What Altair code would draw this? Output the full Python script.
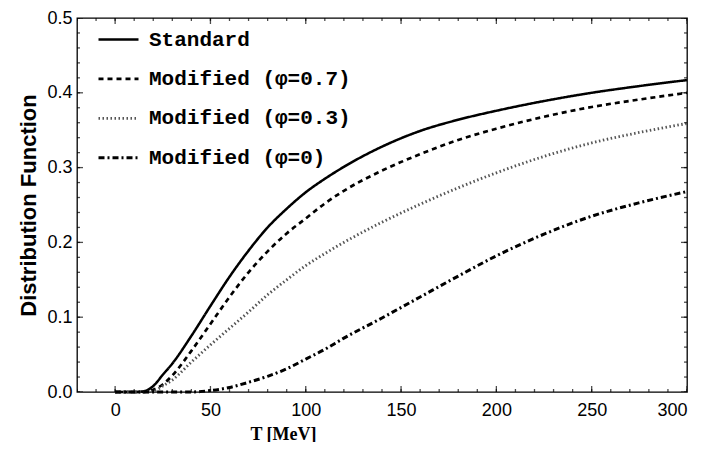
import altair as alt
import pandas as pd

# ---- data ----
T = [0, 10, 15, 20, 25, 30, 40, 50, 60, 70, 80, 90, 100, 110, 120, 140, 160, 180, 200, 225, 250, 275, 300]
STANDARD = [0, 0, 0.001, 0.008, 0.023, 0.038, 0.075, 0.115, 0.154, 0.189, 0.220, 0.245, 0.267, 0.285, 0.301,
            0.328, 0.349, 0.364, 0.376, 0.389, 0.400, 0.409, 0.417]
PHI_07 = [0, 0, 0, 0.003, 0.010, 0.022, 0.055, 0.091, 0.127, 0.160, 0.188, 0.212, 0.232, 0.252, 0.269,
          0.296, 0.318, 0.337, 0.352, 0.368, 0.381, 0.391, 0.400]
PHI_03 = [0, 0, 0, 0.001, 0.008, 0.016, 0.040, 0.063, 0.085, 0.107, 0.130, 0.150, 0.169, 0.185, 0.200,
          0.227, 0.251, 0.273, 0.293, 0.315, 0.333, 0.347, 0.359]
PHI_0 = [0, 0, 0, 0, 0, 0, 0, 0.002, 0.006, 0.013, 0.021, 0.031, 0.044, 0.057, 0.072,
         0.099, 0.127, 0.155, 0.182, 0.211, 0.235, 0.253, 0.268]

SERIES = ["Standard", "Modified (φ=0.7)", "Modified (φ=0.3)", "Modified (φ=0)"]
COLORS = ["black", "black", "#555555", "black"]
DASHES = [[1, 0], [5, 4], [1.5, 2.5], [6, 3, 2, 3]]
WIDTHS = [2.5, 3.0, 1.6, 2.5]

X_LABELS = [0, 50, 100, 150, 200, 250, 300]
X_MINOR = [-20, -10, 0, 10, 20, 30, 40, 50, 60, 70, 80, 90, 100, 110, 120, 130, 140, 150, 160, 170, 180,
           190, 200, 210, 220, 230, 240, 250, 260, 270, 280, 290, 300]
Y_LABELS = [0.0, 0.1, 0.2, 0.3, 0.4, 0.5]
Y_MINOR = [0.0, 0.02, 0.04, 0.06, 0.08, 0.1, 0.12, 0.14, 0.16, 0.18, 0.2, 0.22, 0.24, 0.26, 0.28, 0.3,
           0.32, 0.34, 0.36, 0.38, 0.4, 0.42, 0.44, 0.46, 0.48, 0.5]
X_MIN, X_MAX = -20, 300
Y_MIN, Y_MAX = 0.0, 0.5

rows = []
for name, vals in zip(SERIES, [STANDARD, PHI_07, PHI_03, PHI_0]):
    for t, v in zip(T, vals):
        rows.append({"T": t, "f": v, "series": name})
df = pd.DataFrame(rows)

W, H = 610, 374
xscale = alt.Scale(domain=[X_MIN, X_MAX], nice=False, zero=False)
yscale = alt.Scale(domain=[Y_MIN, Y_MAX], nice=False, zero=False)

LABEL_FONT = "Liberation Sans Narrow, Liberation Sans, Arial"

AX_X = alt.Axis(
    orient="bottom", values=X_LABELS, ticks=False, tickSize=0, domain=False, grid=False,
    labelFont=LABEL_FONT, labelFontSize=18, labelColor="black", labelPadding=9,
    title="T [MeV]", titleFont="Liberation Serif", titleFontSize=18, titleFontWeight="bold",
    titleColor="black", titleX=206, titleY=47, titleBaseline="alphabetic", titleAlign="center")
AX_Y = alt.Axis(
    orient="left", values=Y_LABELS, format=".1f", ticks=False, tickSize=0, domain=False, grid=False,
    labelFont=LABEL_FONT, labelFontSize=18, labelColor="black", labelPadding=5,
    title="Distribution Function", titleFont="Liberation Sans", titleFontSize=22,
    titleFontWeight="bold", titleColor="black", titleX=-49, titleBaseline="middle",
    titleAlign="center", titleAngle=270)

legend = alt.Legend(
    orient="none", legendX=20, legendY=0, title=None, symbolType="stroke", symbolSize=1600,
    labelFont="Liberation Mono", labelFontSize=21, labelFontWeight="bold", labelColor="black",
    labelOffset=9, rowPadding=7.4, padding=0, labelLimit=400)

lines = alt.Chart(df).mark_line(interpolate="monotone").encode(
    x=alt.X("T:Q", scale=xscale, axis=AX_X),
    y=alt.Y("f:Q", scale=yscale, axis=AX_Y),
    color=alt.Color("series:N", scale=alt.Scale(domain=SERIES, range=COLORS), legend=legend),
    strokeDash=alt.StrokeDash("series:N", scale=alt.Scale(domain=SERIES, range=DASHES), legend=legend),
    strokeWidth=alt.StrokeWidth("series:N", scale=alt.Scale(domain=SERIES, range=WIDTHS), legend=legend),
)


# inward frame ticks: ticks centred on the frame edge, clipped to the plot area
def x_ticks(values, edge, size):
    d = pd.DataFrame({"v": values})
    return alt.Chart(d).mark_tick(orient="vertical", clip=True, color="black", thickness=1.3,
                                  size=size).encode(
        x=alt.X("v:Q", scale=xscale, axis=AX_X),
        y=alt.YDatum(edge, type="quantitative", scale=yscale, axis=AX_Y),
    )


def y_ticks(values, edge, size):
    d = pd.DataFrame({"v": values})
    return alt.Chart(d).mark_tick(orient="horizontal", clip=True, color="black", thickness=1.3,
                                  size=size).encode(
        y=alt.Y("v:Q", scale=yscale, axis=AX_Y),
        x=alt.XDatum(edge, type="quantitative", scale=xscale, axis=AX_X),
    )


tick_layers = [
    x_ticks(X_MINOR, Y_MIN, 6), x_ticks(X_LABELS, Y_MIN, 12),
    x_ticks(X_MINOR, Y_MAX, 6), x_ticks(X_LABELS, Y_MAX, 12),
    y_ticks(Y_MINOR, X_MIN, 6), y_ticks(Y_LABELS, X_MIN, 12),
    y_ticks(Y_MINOR, X_MAX, 6), y_ticks(Y_LABELS, X_MAX, 12),
]

chart = alt.layer(lines, *tick_layers).properties(
    width=W, height=H,
    autosize=alt.AutoSizeParams(type="none"),
    padding={"left": 69, "top": 10, "right": 10, "bottom": 50},
).configure_view(stroke="black", strokeWidth=1.3)

chart.save("out.html", embed_options={"renderer": "svg", "actions": False})
